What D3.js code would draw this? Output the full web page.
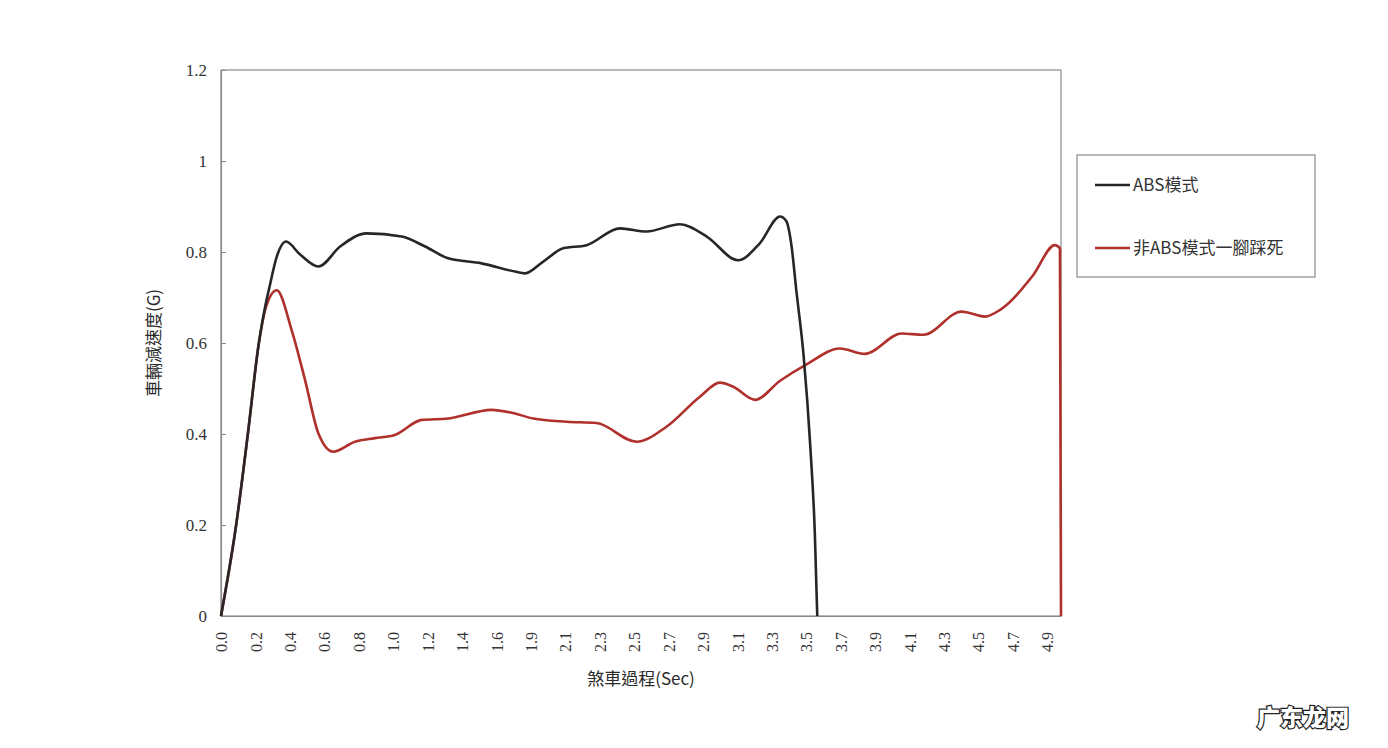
<!DOCTYPE html>
<html><head><meta charset="utf-8">
<script src="https://cdn.jsdelivr.net/npm/d3@7"></script>
<style>
html,body{margin:0;padding:0;background:#fff;}
svg{display:block;}
</style></head>
<body>
<svg id="chart" width="1388" height="748"></svg>
<script>
// ---- data (x in category-tick units: 0 = "0.0", 24 = "4.9") ----
const xTickLabels = ["0.0","0.2","0.4","0.6","0.8","1.0","1.2","1.4","1.6","1.9","2.1","2.3","2.5","2.7","2.9","3.1","3.3","3.5","3.7","3.9","4.1","4.3","4.5","4.7","4.9"];
const yTickValues = [0, 0.2, 0.4, 0.6, 0.8, 1, 1.2];
const yTickLabels = ["0","0.2","0.4","0.6","0.8","1","1.2"];
const seriesNames = ["ABS模式", "非ABS模式一腳踩死"];

const absX = [0,0.44,0.78,1.10,1.31,1.40,1.62,1.89,2.29,2.83,3.46,4.23,5.25,5.93,6.60,7.57,8.54,8.83,9.36,9.94,10.62,11.59,12.36,13.33,14.11,15.02,15.65,16.24,16.42,16.56,16.72,16.92,17.12,17.25,17.32];
const absY = [0,0.20,0.40,0.60,0.69,0.72,0.79,0.823,0.795,0.768,0.812,0.841,0.834,0.812,0.786,0.775,0.757,0.753,0.779,0.808,0.815,0.852,0.845,0.861,0.834,0.782,0.819,0.878,0.868,0.82,0.71,0.575,0.37,0.18,0];

const nonAbsX = [0,0.44,0.78,1.10,1.31,1.62,2.05,2.44,2.83,3.26,3.89,4.47,5.05,5.83,6.60,7.86,8.54,9.07,10.04,10.91,12.07,12.94,13.91,14.49,14.88,15.51,16.24,17.01,17.98,18.70,19.77,20.40,21.51,22.19,22.63,23.59,24.22,24.37,24.40];
const nonAbsY = [0,0.20,0.40,0.60,0.68,0.716,0.629,0.519,0.401,0.361,0.383,0.391,0.398,0.431,0.434,0.453,0.445,0.434,0.427,0.424,0.383,0.416,0.482,0.513,0.504,0.475,0.517,0.553,0.588,0.576,0.621,0.618,0.669,0.658,0.673,0.749,0.815,0.808,0];

// ---- layout ----
const svg = d3.select("#chart");
const L = 221, R = 1061, T = 70, B = 616;
const x = d3.scaleLinear().domain([0, 24.4]).range([L, R]);
const y = d3.scaleLinear().domain([0, 1.2]).range([B, T]);
const serif = "'Liberation Serif','DejaVu Serif',serif";
const cjk = "'Noto Sans CJK TC','Noto Sans CJK SC',sans-serif";

// frame
svg.append("rect").attr("x", L).attr("y", T).attr("width", R - L).attr("height", B - T)
  .attr("fill", "none").attr("stroke", "#8a8a8a").attr("stroke-width", 1.2);

// y axis
const yAxis = d3.axisLeft(y).tickValues(yTickValues)
  .tickFormat((d, i) => yTickLabels[i]).tickSizeInner(-5).tickSizeOuter(0).tickPadding(14);
const gy = svg.append("g").attr("transform", `translate(${L},0)`).call(yAxis);
gy.attr("font-family", serif);
gy.select(".domain").attr("stroke", "#8a8a8a").attr("stroke-width", 1.2);
gy.selectAll(".tick line").attr("stroke", "#8a8a8a");
gy.selectAll("text").style("font-family", serif).attr("font-size", 17).attr("fill", "#333");

// x axis (rotated labels, no tick marks)
const xAxis = d3.axisBottom(x).tickValues(d3.range(xTickLabels.length))
  .tickFormat((d) => xTickLabels[d]).tickSize(0).tickSizeOuter(0);
const gx = svg.append("g").attr("transform", `translate(0,${B})`).call(xAxis);
gx.attr("font-family", serif);
gx.select(".domain").attr("stroke", "#8a8a8a").attr("stroke-width", 1.2);
gx.selectAll("text")
  .style("font-family", serif).attr("font-size", 16).attr("fill", "#333")
  .attr("transform", "rotate(-90)")
  .attr("text-anchor", "end")
  .attr("x", -16).attr("y", 0).attr("dy", "0.35em");

// axis titles
svg.append("text").attr("x", 641).attr("y", 685).attr("text-anchor", "middle")
  .attr("font-family", cjk).attr("font-size", 17).attr("fill", "#2a2a2a").text("煞車過程(Sec)");
svg.append("text").attr("transform", "translate(160,343) rotate(-90)").attr("text-anchor", "middle")
  .attr("font-family", cjk).attr("font-size", 17).attr("fill", "#2a2a2a").text("車輛減速度(G)");

// lines
const colors = ["#262626", "#b0302c"];
const line = d3.line().x(d => x(d[0])).y(d => y(d[1])).curve(d3.curveMonotoneX);
const nonAbsData = nonAbsX.map((v, i) => [v, nonAbsY[i]]);
const absData = absX.map((v, i) => [v, absY[i]]);
svg.append("path").datum(nonAbsData).attr("d", line).attr("fill", "none")
  .attr("stroke", colors[1]).attr("stroke-width", 2.6).attr("stroke-linejoin", "round");
svg.append("path").datum(absData).attr("d", line).attr("fill", "none")
  .attr("stroke", colors[0]).attr("stroke-width", 2.6).attr("stroke-linejoin", "round");

// legend
const lg = svg.append("g");
lg.append("rect").attr("x", 1077).attr("y", 155).attr("width", 238).attr("height", 122)
  .attr("fill", "#fff").attr("stroke", "#8a8a8a").attr("stroke-width", 1.2);
const legendY = [185, 248];
seriesNames.forEach((name, i) => {
  lg.append("line").attr("x1", 1095).attr("x2", 1130).attr("y1", legendY[i]).attr("y2", legendY[i])
    .attr("stroke", colors[i]).attr("stroke-width", 2.6);
  lg.append("text").attr("x", 1133).attr("y", legendY[i]).attr("dy", "0.35em")
    .attr("font-family", cjk).attr("font-size", 17).attr("fill", "#333").text(name);
});

// watermark
svg.append("text").attr("x", 1303).attr("y", 718).attr("dy", "0.35em").attr("text-anchor", "middle")
  .attr("font-family", cjk).attr("font-weight", 900).attr("font-size", 23)
  .attr("fill", "#fff").attr("stroke", "#222").attr("stroke-width", 2.4)
  .attr("paint-order", "stroke").text("广东龙网");
</script>
</body></html>
